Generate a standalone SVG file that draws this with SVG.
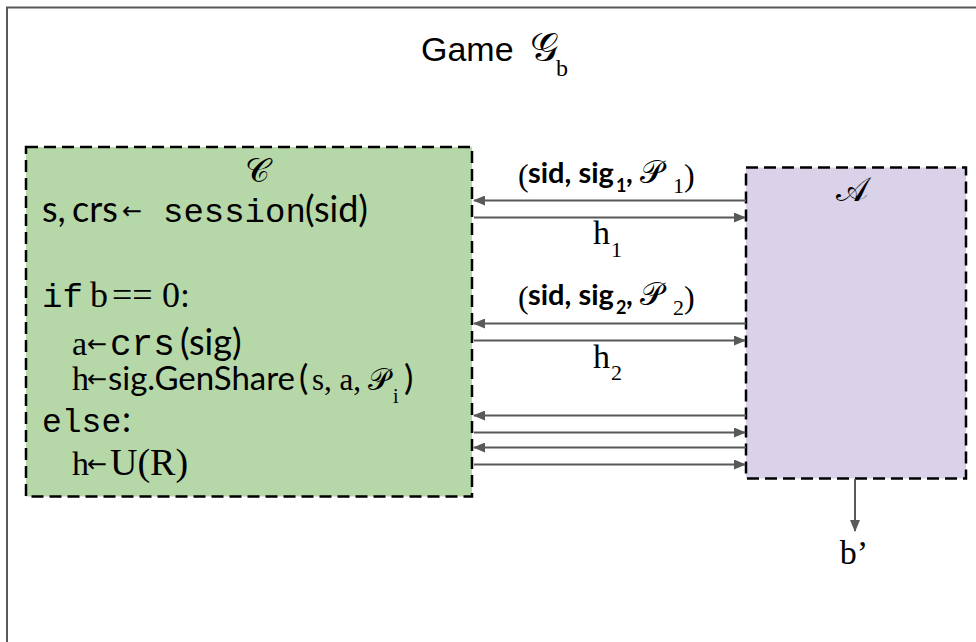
<svg xmlns="http://www.w3.org/2000/svg" width="976" height="642" viewBox="0 0 976 642">
<defs>
<marker id="ah" viewBox="0 0 12 10" refX="11" refY="5" markerWidth="12" markerHeight="10" markerUnits="userSpaceOnUse" orient="auto">
<path d="M0,0 L12,5 L0,10 Z" fill="#595959"/>
</marker>
<style>
.frame{fill:none;stroke:#595959;stroke-width:2}
.box{stroke:#000;stroke-width:2.5;stroke-dasharray:12 6}
.arr{stroke:#595959;stroke-width:2;fill:none;marker-end:url(#ah)}
text{fill:#000}
.sans{font-family:Lato,"Open Sans","Liberation Sans",sans-serif}
.mono{font-family:"Liberation Mono","DejaVu Sans Mono",monospace}
.ser{font-family:"Liberation Serif","DejaVu Serif",serif}
.scr{font-family:"DejaVu Serif","DejaVu Sans",serif}
.ar{font-family:"DejaVu Sans",sans-serif;font-size:24px}
.title{font-family:"Liberation Sans",Arial,sans-serif;font-size:34px}
</style>
</defs>
<rect class="frame" x="7" y="7.5" width="1000" height="700"/>
<g id="title">
<text class="title" x="421" y="61">Game</text>
<text class="scr" x="530" y="61" font-size="40">𝒢</text>
<text class="ser" x="556" y="76" font-size="24">b</text>
</g>
<g id="challenger">
<rect class="box" x="26" y="147" width="446" height="349.5" fill="#b6d7a8"/>
<text class="scr" x="257" y="182" font-size="34" text-anchor="middle">𝒞</text>
<text y="222" font-size="36"><tspan class="sans" x="42">s,</tspan><tspan class="sans" x="72">crs</tspan><tspan class="ar" x="122" y="219">←</tspan><tspan class="mono" x="163" y="222" font-size="34">session</tspan><tspan class="sans" x="305">(sid)</tspan></text>
<text y="307" font-size="34"><tspan class="mono" x="42">if</tspan><tspan class="ser" x="90" font-size="36">b</tspan><tspan class="ser" x="112" font-size="36">==</tspan><tspan class="ser" x="162" font-size="36">0:</tspan></text>
<text y="355" font-size="34"><tspan class="ser" x="72">a</tspan><tspan class="ar" x="87" y="352">←</tspan><tspan class="mono" x="110" y="355" font-size="36">crs</tspan><tspan class="sans" x="180" font-size="36">(sig)</tspan></text>
<text y="390" font-size="34"><tspan class="ser" x="72">h</tspan><tspan class="ar" x="87" y="387">←</tspan><tspan class="sans" x="108" y="390" font-size="33">sig.GenShare</tspan><tspan class="sans" x="299" font-size="35">(</tspan><tspan class="ser" x="312" font-size="31">s, a,</tspan><tspan class="scr" x="368" font-size="30">𝒫</tspan><tspan class="ser" x="393" y="403" font-size="20">i</tspan><tspan class="sans" x="404" y="390" font-size="35">)</tspan></text>
<text y="432" font-size="33"><tspan class="mono" x="42">else</tspan><tspan class="sans" x="122" font-size="36">:</tspan></text>
<text y="475" font-size="34"><tspan class="ser" x="72">h</tspan><tspan class="ar" x="87" y="472">←</tspan><tspan class="ser" x="110" y="475" font-size="38">U(R)</tspan></text>
</g>
<g id="adversary">
<rect class="box" x="746" y="167.5" width="220" height="311" fill="#d9d2e9"/>
<text class="scr" x="852" y="201" font-size="34" text-anchor="middle">𝒜</text>
</g>
<g id="connectors">
<line class="arr" x1="746" y1="200.5" x2="474" y2="200.5"/>
<line class="arr" x1="474" y1="217.5" x2="745" y2="217.5"/>
<line class="arr" x1="746" y1="323.5" x2="474" y2="323.5"/>
<line class="arr" x1="474" y1="340.5" x2="745" y2="340.5"/>
<line class="arr" x1="746" y1="415.5" x2="474" y2="415.5"/>
<line class="arr" x1="474" y1="432.5" x2="745" y2="432.5"/>
<line class="arr" x1="746" y1="447.5" x2="474" y2="447.5"/>
<line class="arr" x1="474" y1="464.5" x2="745" y2="464.5"/>
<line class="arr" x1="855" y1="479" x2="855" y2="531"/>
</g>
<g id="labels">
<text y="183" font-size="29"><tspan class="ser" x="518" y="186" font-size="32">(</tspan><tspan class="sans" x="528" y="183" font-weight="bold">sid, sig</tspan><tspan class="sans" x="616" y="192" font-size="18" font-weight="bold">1</tspan><tspan class="sans" x="626" y="183" font-weight="bold">,</tspan><tspan class="scr" x="640" font-size="32">𝒫</tspan><tspan class="ser" x="673" y="193" font-size="22">1</tspan><tspan class="ser" x="684" y="186" font-size="32">)</tspan></text>
<text y="244" font-size="34"><tspan class="ser" x="593">h</tspan><tspan class="ser" x="611" y="257" font-size="22">1</tspan></text>
<text y="305" font-size="29"><tspan class="ser" x="518" y="308" font-size="32">(</tspan><tspan class="sans" x="528" y="305" font-weight="bold">sid, sig</tspan><tspan class="sans" x="616" y="314" font-size="18" font-weight="bold">2</tspan><tspan class="sans" x="626" y="305" font-weight="bold">,</tspan><tspan class="scr" x="640" font-size="32">𝒫</tspan><tspan class="ser" x="673" y="315" font-size="22">2</tspan><tspan class="ser" x="684" y="308" font-size="32">)</tspan></text>
<text y="368" font-size="34"><tspan class="ser" x="593">h</tspan><tspan class="ser" x="611" y="380" font-size="22">2</tspan></text>
<text class="ser" x="854" y="564" font-size="34" text-anchor="middle">b’</text>
</g>
</svg>
